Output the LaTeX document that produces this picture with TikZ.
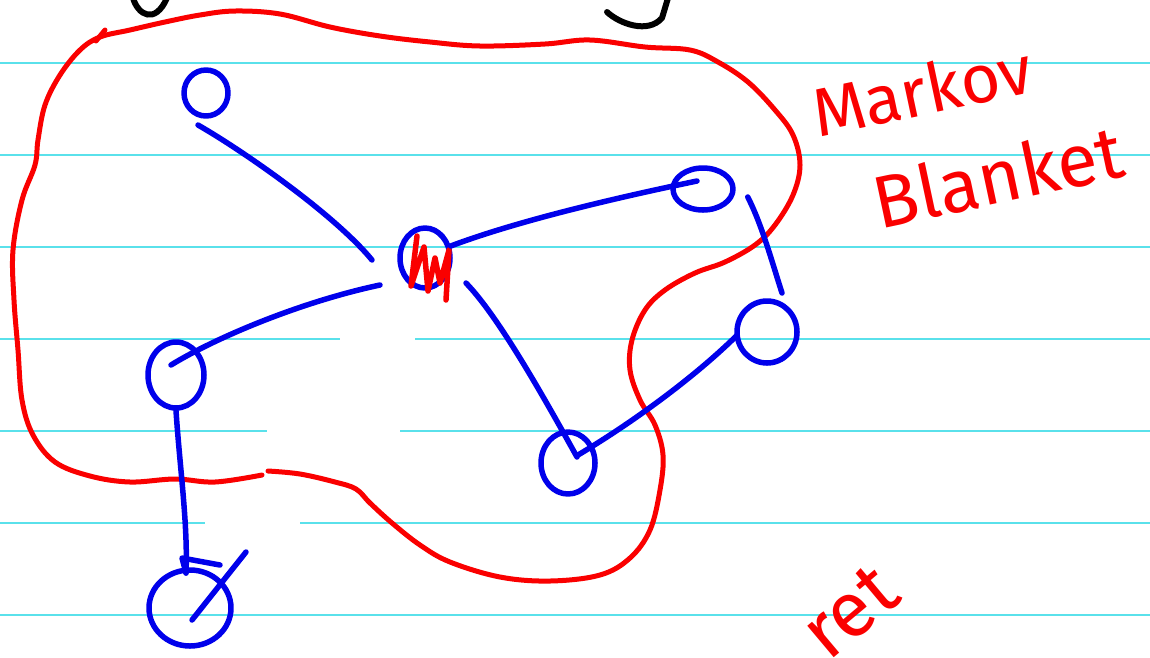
\documentclass[tikz,border=0pt]{standalone}
\usepackage{fontspec}
\setmainfont{Fira Sans}
\usetikzlibrary{shapes.geometric}
\definecolor{penblue}{RGB}{0,0,235}
\definecolor{penred}{RGB}{250,0,0}
\definecolor{ruling}{RGB}{90,225,235}
\begin{document}
\begin{tikzpicture}[x=1pt, y=-1pt, line cap=round, line join=round,
    vertex/.style={draw=penblue, ellipse, line width=5.5pt, inner sep=0pt},
    link/.style={draw=penblue, line width=5.5pt},
    pen/.style={draw=penred, line width=5pt},
    script/.style={text=penred, inner sep=0pt}]
    \useasboundingbox (0,0) rectangle (1150,657);
    \clip (0,0) rectangle (1150,657);
    \fill[white] (0,0) rectangle (1150,657);
    % ruled paper
    \foreach \y in {63,155,247,615}
        \draw[ruling, line width=1.5pt, line cap=butt] (0,\y) -- (1150,\y);
    \draw[ruling, line width=1.5pt, line cap=butt] (0,339) -- (340,339) (415,339) -- (1150,339)
        (0,431) -- (267,431) (400,431) -- (1150,431)
        (0,523) -- (205,523) (300,523) -- (1150,523);
    % bits of the line above
    \draw[line width=6pt] (133,-2) .. controls (138,15) and (155,25) .. (167,-2);
    \draw[line width=6pt] (607,12) .. controls (620,24) and (648,34) .. (662,18) -- (668,-2);
    % the blanket
    \draw[pen] plot[smooth, tension=0.6] coordinates {(268,471) (300,474) (335,482) (356,489)
        (370,503) (392,523) (420,545) (450,562) (500,577) (550,581) (600,575) (630,558)
        (650,530) (660,490) (663,455) (655,425) (640,400) (630,370) (632,340) (645,310)
        (665,290) (695,273) (725,262) (755,245) (775,225) (793,195) (800,165) (793,135)
        (775,110) (748,82) (718,62) (690,50) (645,47) (590,40) (545,44) (480,46) (430,42)
        (380,36) (330,27) (280,14) (235,11) (200,15) (165,22) (130,30) (100,37) (80,50)
        (60,75) (45,105) (38,140) (35,165) (22,200) (13,250) (14,300) (18,350) (22,400)
        (33,435) (55,462) (90,476) (130,482) (175,479) (215,482) (262,475)};
    \draw[pen] (105,30) -- (96,41);
    % the graph
    \node[vertex, minimum width=44, minimum height=46] (a) at (206,93) {};
    \node[vertex, minimum width=50, minimum height=60] (m) at (425,258) {};
    \node[vertex, minimum width=60, minimum height=42] (b) at (703,189) {};
    \node[vertex, minimum width=60, minimum height=62] (c) at (767,332) {};
    \node[vertex, minimum width=56, minimum height=66] (d) at (176,375) {};
    \node[vertex, minimum width=54, minimum height=62] (e) at (568,463) {};
    \node[vertex, minimum width=82, minimum height=76] (f) at (190,608) {};
    \coordinate (ftail) at (246,552);
    \draw[pen, line width=5.5pt] (417,236) -- (411,286) -- (424,247) -- (428,291)
        -- (435,258) -- (440,283) -- (449,250) -- (446,300);
    \draw[link] ([shift={(-8,32)}]a.center) .. controls (245,152) and (335,215) .. ([shift={(-53,2)}]m.center);
    \draw[link] (m.25) .. controls (520,220) and (620,197) .. ([shift={(-6,-8)}]b.center);
    \draw[link] ([shift={(-45,27)}]m.center) .. controls (300,302) and (215,338) .. ([shift={(-5,-10)}]d.center);
    \draw[link] ([shift={(41,25)}]m.center) .. controls (500,318) and (548,405) .. ([shift={(9,-6)}]e.center);
    \draw[link] ([shift={(10,-8)}]e.center) .. controls (640,418) and (700,372) .. ([shift={(3,3)}]c.west);
    \draw[link] ([shift={(12,8)}]b.east) .. controls (762,225) and (772,262) .. ([shift={(15,-39)}]c.center);
    \draw[link] (d.south) .. controls (180,470) and (188,525) .. ([shift={(-4,-35)}]f.center);
    \draw[link] ([shift={(-4,-35)}]f.center) -- ([shift={(-8,-50)}]f.center) -- ([shift={(30,-43)}]f.center);
    \draw[link] ([shift={(2,12)}]f.center) -- (ftail);
    % notes
    \node[script, font=\fontsize{68}{68}\selectfont, rotate=12] (mk) at (922,90) {Markov};
    \node[script, font=\fontsize{74}{74}\selectfont, rotate=12] (bk) at (998,176) {Blanket};
    \node[script, font=\fontsize{78}{78}\selectfont, rotate=40] (rt) at (850,612) {ret};
\end{tikzpicture}
\end{document}
